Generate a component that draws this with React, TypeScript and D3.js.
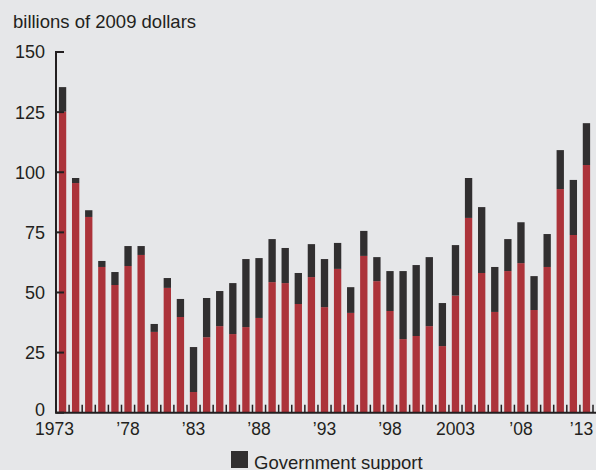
import React, { useEffect, useRef } from 'react';
import * as d3 from 'd3';

const years = [
  1973, 1974, 1975, 1976, 1977, 1978, 1979, 1980, 1981, 1982,
  1983, 1984, 1985, 1986, 1987, 1988, 1989, 1990, 1991, 1992,
  1993, 1994, 1995, 1996, 1997, 1998, 1999, 2000, 2001, 2002,
  2003, 2004, 2005, 2006, 2007, 2008, 2009, 2010, 2011, 2012, 2013,
];

// red part of each bar
const marketValues = [
  125.2, 95.5, 81.4, 60.6, 53.1, 61.0, 65.6, 33.6, 51.9, 39.8,
  8.6, 31.4, 36.0, 32.7, 35.6, 39.4, 54.3, 53.9, 45.2, 56.4,
  43.9, 59.8, 41.5, 65.2, 54.7, 42.3, 30.6, 31.9, 36.0, 27.7,
  48.7, 81.0, 58.1, 41.9, 58.9, 62.2, 42.7, 60.6, 93.0, 73.9, 103.0,
];

// dark part stacked on top
const govValues = [
  10.2, 2.1, 2.8, 2.5, 5.4, 8.3, 3.7, 3.3, 4.1, 7.5,
  18.7, 16.3, 14.6, 21.2, 28.3, 24.9, 17.9, 14.6, 12.9, 13.7,
  20.0, 10.8, 10.7, 10.4, 10.0, 16.6, 28.3, 29.5, 28.7, 17.9,
  21.0, 16.6, 27.4, 18.7, 13.3, 17.0, 14.1, 13.7, 16.2, 22.9, 17.4,
];

const yTicks = [0, 25, 50, 75, 100, 125, 150];
const labelYears = [1973, 1978, 1983, 1988, 1993, 1998, 2003, 2008, 2013];
const labelTexts = ['1973', '\u201978', '\u201983', '\u201988', '\u201993', '\u201998', '2003', '\u201908', '\u201913'];

const RED = '#ac333a';
const DARK = '#312f30';
const BG = '#e6e7e9';
const INK = '#231f20';
const FONT = '"Liberation Sans", Arial, Helvetica, sans-serif';

const W = 596;
const H = 470;

const Chart: React.FC = () => {
  const svgRef = useRef<SVGSVGElement>(null);

  useEffect(() => {
    if (!svgRef.current) return;
    const svg = d3.select(svgRef.current);
    svg.selectAll('*').remove();

    const left = 56;
    const right = 593;
    const top = 52;
    const bottom = 412.7;

    const x = d3.scaleBand<number>()
      .domain(years)
      .range([left, right])
      .paddingInner(0.44)
      .paddingOuter(0.22);

    const y = d3.scaleLinear().domain([0, 150]).range([bottom, top]);

    const rows = years.map((yr, i) => ({ year: yr, market: marketValues[i], gov: govValues[i] }));
    const stacked = d3.stack<any>().keys(['market', 'gov'])(rows);
    const colors = [RED, DARK];

    svg.append('rect').attr('width', W).attr('height', H).attr('fill', BG);

    // title
    svg.append('text')
      .attr('x', 13)
      .attr('y', 27.5)
      .attr('fill', INK)
      .style('font-family', FONT)
      .style('font-size', '18.5px')
      .text('billions of 2009 dollars');

    // bars
    stacked.forEach((layer, li) => {
      svg.append('g')
        .selectAll('rect')
        .data(layer)
        .enter()
        .append('rect')
        .attr('x', d => x(d.data.year) || 0)
        .attr('y', d => y(d[1]))
        .attr('width', x.bandwidth())
        .attr('height', d => y(d[0]) - y(d[1]))
        .attr('fill', colors[li]);
    });

    // y axis
    const yAxis = svg.append('g');
    yAxis.append('line')
      .attr('x1', left).attr('x2', left)
      .attr('y1', y(150) - 1).attr('y2', bottom)
      .attr('stroke', INK).attr('stroke-width', 2);
    yTicks.forEach(t => {
      yAxis.append('line')
        .attr('x1', left).attr('x2', left + 8)
        .attr('y1', y(t)).attr('y2', y(t))
        .attr('stroke', INK).attr('stroke-width', 2);
      yAxis.append('text')
        .attr('x', 45)
        .attr('y', y(t))
        .attr('dy', t === 0 ? '0.2em' : '0.36em')
        .attr('text-anchor', 'end')
        .attr('fill', INK)
        .style('font-family', FONT)
        .style('font-size', '18px')
        .text(t);
    });

    // x axis with ticks between bars
    const xAxis = svg.append('g');
    xAxis.append('line')
      .attr('x1', left - 1).attr('x2', W)
      .attr('y1', bottom).attr('y2', bottom)
      .attr('stroke', INK).attr('stroke-width', 2);
    years.forEach(yr => {
      const bx = (x(yr) || 0) + x.bandwidth() + (x.step() - x.bandwidth()) / 2;
      xAxis.append('line')
        .attr('x1', bx).attr('x2', bx)
        .attr('y1', bottom).attr('y2', bottom - 8)
        .attr('stroke', INK).attr('stroke-width', 1.5);
    });
    labelYears.forEach((yr, i) => {
      const shift = i === 0 ? -8 : i === labelYears.length - 1 ? -5 : 0;
      xAxis.append('text')
        .attr('x', (x(yr) || 0) + x.bandwidth() / 2 + shift)
        .attr('y', 435)
        .attr('text-anchor', 'middle')
        .attr('fill', INK)
        .style('font-family', FONT)
        .style('font-size', '17.5px')
        .text(labelTexts[i]);
    });

    // legend
    const legend = svg.append('g');
    legend.append('rect')
      .attr('x', 231).attr('y', 451)
      .attr('width', 17).attr('height', 17)
      .attr('fill', DARK);
    legend.append('text')
      .attr('x', 254)
      .attr('y', 469)
      .attr('fill', INK)
      .style('font-family', FONT)
      .style('font-size', '18.5px')
      .text('Government support');
  }, []);

  return <svg ref={svgRef} width={W} height={H} style={{ display: 'block' }} />;
};

export default function App() {
  return (
    <div style={{ position: 'absolute', top: 0, left: 0, width: W, height: H, overflow: 'hidden' }}>
      <Chart />
    </div>
  );
}
